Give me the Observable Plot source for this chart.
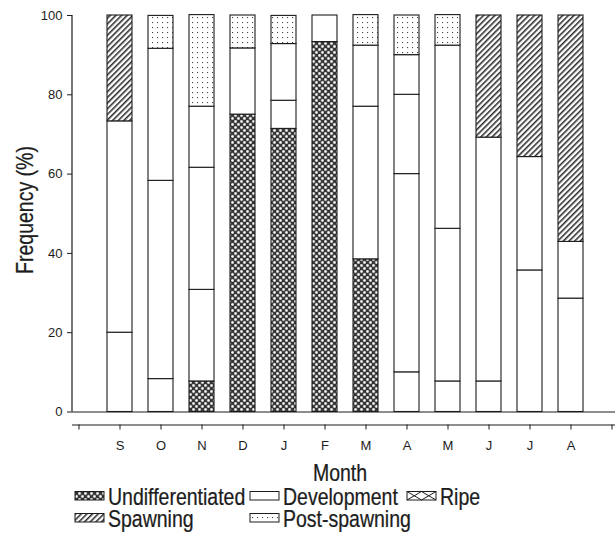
<!DOCTYPE html>
<html><head><meta charset="utf-8">
<script src="https://cdn.jsdelivr.net/npm/d3@7"></script>
<script src="https://cdn.jsdelivr.net/npm/@observablehq/plot@0.6"></script>
<style>
body{margin:0;background:#fff;}
#wrap{position:relative;width:615px;height:536px;}
#wrap > svg{position:absolute;left:0;top:0;}
#legend{position:absolute;left:0;top:0;}
</style></head><body>
<svg width="0" height="0" style="position:absolute">
<defs>
<pattern id="pUndiff" width="6" height="6" patternUnits="userSpaceOnUse">
  <rect width="6" height="6" fill="#333"/>
  <circle cx="1.5" cy="1.5" r="1.45" fill="#fff" stroke="#8a8a8a" stroke-width="0.6"/>
  <circle cx="4.5" cy="4.5" r="1.45" fill="#fff" stroke="#8a8a8a" stroke-width="0.6"/>
</pattern>
<pattern id="pSpawn" width="4" height="4" patternUnits="userSpaceOnUse" patternTransform="rotate(45)">
  <rect width="4" height="4" fill="#fff"/>
  <line x1="0.8" y1="0" x2="0.8" y2="4" stroke="#222" stroke-width="1.5"/>
</pattern>
<pattern id="pPost" width="5" height="5" patternUnits="userSpaceOnUse">
  <rect width="5" height="5" fill="#fff"/>
  <rect x="2" y="2" width="1.1" height="1.1" fill="#444"/>
</pattern>
</defs>
</svg>
<div id="wrap"></div>
<script>
// ---- data (percent of individuals per gonad stage, by month) ----
const months = ["S","O","N","D","J","F","M","A","M","J","J","A"];
const undifferentiated = [0, 0, 7.7, 75, 71.4, 93.3, 38.5, 0, 0, 0, 0, 0];
const development1     = [20, 8.3, 23.1, 16.7, 7.1, 6.7, 38.5, 10, 7.7, 7.7, 35.7, 28.6];
const development2     = [53.3, 50, 30.8, 0, 14.3, 0, 15.4, 50, 38.5, 61.5, 28.6, 14.3];
const development3     = [0, 33.3, 15.4, 0, 0, 0, 0, 20, 46.2, 0, 0, 0];
const development4     = [0, 0, 0, 0, 0, 0, 0, 10, 0, 0, 0, 0];
const spawning         = [26.7, 0, 0, 0, 0, 0, 0, 0, 0, 30.8, 35.7, 57.1];
const postSpawning     = [0, 8.3, 23.1, 8.3, 7.1, 0, 7.7, 10, 7.7, 0, 0, 0];
const yTicks = [0, 20, 40, 60, 80, 100];
const legendLabels = ["Undifferentiated", "Development", "Ripe", "Spawning", "Post-spawning"];

// ---- build table ----
const keys = d3.range(14).map(i => "k" + i);         // two empty tick slots at ends
const dataKeys = keys.slice(1, 13);
const labelOf = Object.fromEntries(keys.map((k, i) => [k, i >= 1 && i <= 12 ? months[i - 1] : ""]));
const series = [
  {id: "undiff", values: undifferentiated, fill: "url(#pUndiff)"},
  {id: "dev1", values: development1, fill: "white"},
  {id: "dev2", values: development2, fill: "white"},
  {id: "dev3", values: development3, fill: "white"},
  {id: "dev4", values: development4, fill: "white"},
  {id: "spawn", values: spawning, fill: "url(#pSpawn)"},
  {id: "post", values: postSpawning, fill: "url(#pPost)"}
];
const table = [];
dataKeys.forEach((k, i) => series.forEach(s => {
  if (s.values[i] > 0) table.push({key: k, series: s.id, value: s.values[i], fill: s.fill});
}));

const ink = "#1c1c1c";
const plot = Plot.plot({
  width: 615, height: 480,
  marginLeft: 72, marginRight: 0, marginTop: 15, marginBottom: 55.5,
  style: {fontFamily: "'Liberation Sans', Arial, sans-serif", fontSize: "13px", background: "transparent", overflow: "visible", color: ink},
  x: {type: "band", domain: keys, range: [46.3, 643.0], paddingInner: 0.4, paddingOuter: 0.4, axis: null},
  y: {domain: [0, 100], range: [411.5, 15], axis: null},
  color: {type: "identity"},
  marks: [
    Plot.barY(table, {x: "key", y: "value", z: "series", fill: "fill", stroke: ink, strokeWidth: 1.1}),
    Plot.ruleY([0], {stroke: ink, strokeWidth: 1.2}),
    Plot.ruleY([0], {dy: 13, stroke: ink, strokeWidth: 1.2}),
    Plot.axisY({ticks: yTicks, tickSize: 5, tickPadding: 5, label: null, anchor: "left", stroke: ink, fill: ink}),
    Plot.axisX({ticks: keys, tickSize: 5, tickPadding: 11, tickFormat: k => labelOf[k], label: null, anchor: "bottom", stroke: ink, fill: ink})
  ]
});
document.getElementById("wrap").appendChild(plot);

// y axis line + axis titles (condensed via horizontal scaling)
const ys = plot.scale("y");
const svg = d3.select(plot);
svg.append("line").attr("x1", 72).attr("x2", 72)
  .attr("y1", ys.apply(0)).attr("y2", ys.apply(100))
  .attr("stroke", ink).attr("stroke-width", 1.2);
const font = "'Liberation Sans', Arial, sans-serif";
const squeeze = 0.83;
svg.append("text").attr("transform", `translate(33,210) rotate(-90) scale(${squeeze},1)`)
  .attr("text-anchor", "middle").attr("font-family", font).attr("font-size", 23.5)
  .attr("fill", ink).attr("stroke", ink).attr("stroke-width", 0.25).text("Frequency (%)");
svg.append("text").attr("transform", `translate(340,481) scale(${squeeze},1)`)
  .attr("text-anchor", "middle").attr("font-family", font).attr("font-size", 23.5)
  .attr("fill", ink).attr("stroke", ink).attr("stroke-width", 0.25).text("Month");

// legend (below the chart)
const lg = d3.select("#wrap").append("svg").attr("id", "legend")
  .attr("width", 615).attr("height", 536).style("pointer-events", "none");
const items = [
  {label: legendLabels[0], fill: "url(#pUndiff)", x: 75, row: 0},
  {label: legendLabels[1], fill: "white", x: 250, row: 0},
  {label: legendLabels[2], fill: "white", x: 407, row: 0, cross: true},
  {label: legendLabels[3], fill: "url(#pSpawn)", x: 75, row: 1},
  {label: legendLabels[4], fill: "url(#pPost)", x: 250, row: 1}
];
items.forEach(it => {
  const top = it.row === 0 ? 491.5 : 513.5;
  const base = it.row === 0 ? 505 : 527;
  const g = lg.append("g");
  g.append("rect").attr("x", it.x).attr("y", top).attr("width", 29).attr("height", 8.5)
    .attr("fill", it.fill).attr("stroke", ink).attr("stroke-width", 1);
  if (it.cross) {
    [[0,0,14.5,8.5],[14.5,0,0,8.5],[14.5,0,29,8.5],[29,0,14.5,8.5]].forEach(([a,b,c,d]) =>
      g.append("line").attr("x1", it.x + a).attr("y1", top + b).attr("x2", it.x + c).attr("y2", top + d)
        .attr("stroke", ink).attr("stroke-width", 1));
  }
  g.append("text").attr("transform", `translate(${it.x + 33},${base}) scale(${squeeze},1)`)
    .attr("font-family", font).attr("font-size", 23.5).attr("fill", ink)
    .attr("stroke", ink).attr("stroke-width", 0.25).text(it.label);
});
</script>
</body></html>
